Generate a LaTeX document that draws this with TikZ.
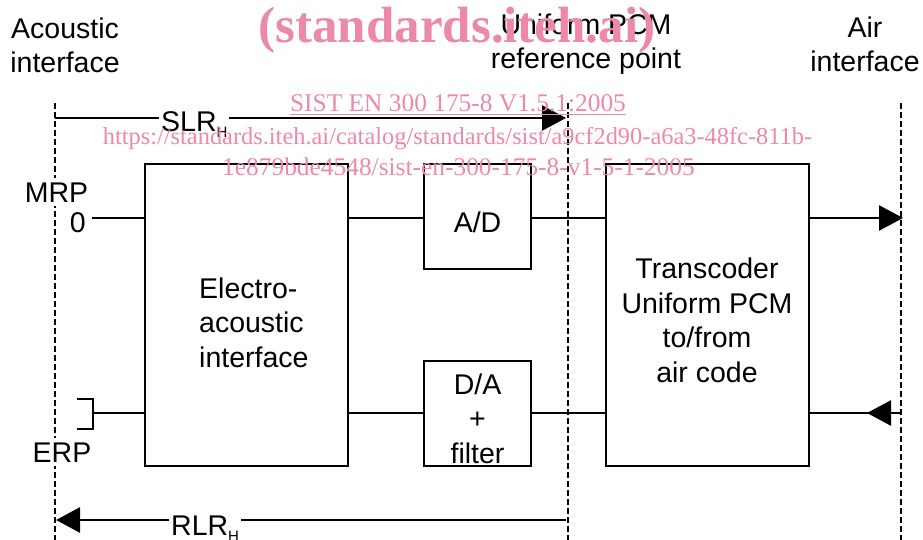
\documentclass[tikz,border=0pt]{standalone}
\usepackage{fontspec}
\setmainfont{Liberation Sans}
\newfontfamily\wmfont{Liberation Serif}
\usetikzlibrary{arrows.meta}
\definecolor{wmpink}{RGB}{237,137,168}
\newcommand{\subH}{\raisebox{-6pt}{\fontsize{15}{15}\selectfont H}}
\tikzset{
  blk/.style={draw, line width=2.6pt, inner sep=0pt},
  sig/.style={line width=2.6pt},
  sigarr/.style={line width=2.6pt, -{Triangle[length=24pt,width=25pt]}},
  refline/.style={line width=2.2pt, dash pattern=on 6pt off 3pt},
  txt/.style={font=\fontsize{28.5}{34.5}\selectfont, inner sep=0pt, align=center},
  wm/.style={text=wmpink, inner sep=0pt},
}
\begin{document}
\begin{tikzpicture}[x=1pt,y=-1pt]
\useasboundingbox (0,0) rectangle (923,540);
% reference dashed lines
\coordinate (LT) at (55,103);  \coordinate (LB) at (55,540);
\coordinate (MT) at (568,103); \coordinate (MB) at (568,540);
\coordinate (RT) at (901,103); \coordinate (RB) at (901,540);
\draw[refline] (LT) -- (LB);
\draw[refline] (MT) -- (MB);
\draw[refline] (RT) -- (RB);
% blocks
\node[blk, minimum width=203pt, minimum height=302pt] (ea) at (246.5,315) {};
\node[blk, minimum width=107pt, minimum height=105pt] (ad) at (477.5,216.5) {};
\node[blk, minimum width=107pt, minimum height=105pt] (da) at (477.5,413.5) {};
\node[blk, minimum width=203pt, minimum height=302pt] (tc) at (707.5,315) {};
% block texts (base = last line baseline)
\node[txt, align=left, anchor=base west] (eat) at (199,367) {Electro-\\acoustic\\interface};
\node[txt, anchor=base] (adt) at (477.5,232) {A/D};
\node[txt, anchor=base] (dat) at (477.5,463) {D/A\\+\\filter};
\node[txt, anchor=base] (tct) at (707,382) {Transcoder\\Uniform PCM\\to/from\\air code};
% header labels
\node[txt, anchor=base] (acl) at (65,73) {Acoustic\\interface};
\node[txt, anchor=base] (upl) at (586,69) {Uniform PCM\\reference point};
\node[txt, anchor=base] (ail) at (865,72) {Air\\interface};
% upper (send) path
\coordinate (m0) at (92,218);
\coordinate (airout) at (903,218);
\draw[sig] (m0) -- (m0 -| ea.west);
\draw[sig] (m0 -| ea.east) -- (m0 -| ad.west);
\draw[sig] (m0 -| ad.east) -- (m0 -| tc.west);
\draw[sigarr] (m0 -| tc.east) -- (airout);
% lower (receive) path
\coordinate (ebt) at (77,399);
\coordinate (ebb) at (77,429);
\coordinate (e0) at (93,413);
\coordinate (airin) at (901,413);
\coordinate (ahs) at (893,413);
\coordinate (ahe) at (867,413);
\draw[sig] (ebt) -- (93,399) -- (93,429) -- (ebb);
\draw[sig] (e0) -- (e0 -| ea.west);
\draw[sig] (e0 -| ea.east) -- (e0 -| da.west);
\draw[sig] (e0 -| da.east) -- (e0 -| tc.west);
\draw[sig] (e0 -| tc.east) -- (airin);
\draw[sigarr] (ahs) -- (ahe);
% MRP / ERP
\node[txt, fill=white, inner xsep=1pt, inner ysep=4pt, anchor=base] (mrp) at (56.5,202) {MRP};
\node[txt, anchor=base east] (mrp0) at (86,233) {0};
\node[txt, fill=white, inner xsep=1pt, inner ysep=4pt, anchor=base] (erp) at (62,462) {ERP};
% loudness ratings
\coordinate (slrL) at (55,118);
\coordinate (slrR) at (566,118);
\draw[sigarr] (slrL) -- (slrR);
\node[txt, fill=white, inner xsep=2pt, inner ysep=1pt, anchor=base west] (slr) at (159,132) {SLR\subH};
\coordinate (rlrR) at (566,520);
\coordinate (rlrL) at (56,520);
\draw[sigarr] (rlrR) -- (rlrL);
\node[txt, fill=white, inner xsep=2pt, inner ysep=1pt, anchor=base west] (rlr) at (169,535) {RLR\subH};
% watermark
\node[wm, anchor=base, font=\wmfont\bfseries\fontsize{51}{51}\selectfont] (wm1) at (457,43) {(standards.iteh.ai)};
\node[wm, anchor=base, font=\wmfont\fontsize{25.4}{25.4}\selectfont] (wm2) at (458,112) {\underline{SIST EN 300 175-8 V1.5.1:2005}};
\node[wm, anchor=base, font=\wmfont\fontsize{24.4}{24.4}\selectfont] (wm3) at (457.5,145) {https://standards.iteh.ai/catalog/standards/sist/a9cf2d90-a6a3-48fc-811b-};
\node[wm, anchor=base, font=\wmfont\fontsize{25.4}{25.4}\selectfont] (wm4) at (458.5,176) {1e879bde4548/sist-en-300-175-8-v1-5-1-2005};
\end{tikzpicture}
\end{document}
